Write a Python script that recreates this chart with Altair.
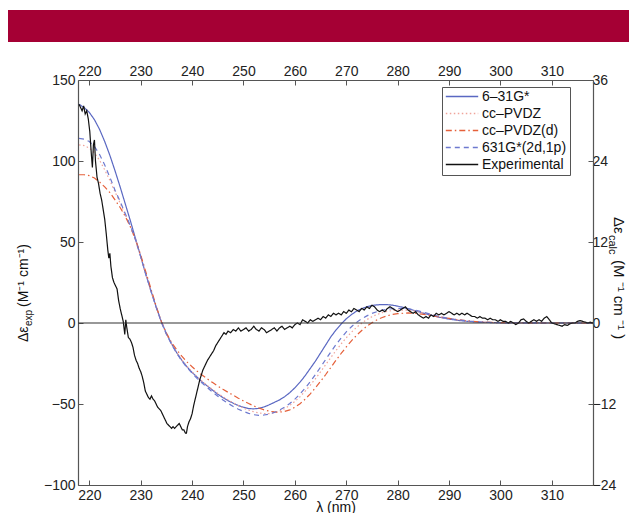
import altair as alt
import pandas as pd

# ---------------- data ----------------
series = ["6–31G*", "cc–PVDZ", "cc–PVDZ(d)", "631G*(2d,1p)", "Experimental"]
colors = ["#5a68c2", "#f0a49a", "#e5603a", "#6d79cf", "#111111"]
dashes = [[1, 0], [1.5, 2.5], [6, 3, 1.5, 3], [5, 4], [1, 0]]

x_ticks = [220, 230, 240, 250, 260, 270, 280, 290, 300, 310]
y_left_ticks = [-100, -50, 0, 50, 100, 150]
y_right_ticks = [-24, -12, 0, 12, 24, 36]

# wavelength grid of the calculated spectra (nm)
calc_nm = list(range(218, 281)) + [282, 284, 286, 288, 290, 292, 294, 296, 298, 300, 305, 310, 318]

# calculated spectra, read against the left axis
g631 = [135, 133, 130, 125.5, 119.5, 112, 103.5, 94, 84, 73.5, 63, 52, 41, 30, 19.8, 10, 1,
        -6.5, -12.8, -18.3, -23, -27, -30.5, -33.5, -36.5, -39, -41.5, -44, -46, -48, -49.5,
        -51, -52, -52.8, -53, -52.7, -51.8, -50.5, -49, -47.5, -45.5, -43, -40, -36.5, -32.5,
        -28, -23.5, -18.5, -13.5, -8.5, -4.3, -0.6, 2.6, 5.2, 7.3, 8.9, 10, 10.8, 11.2, 11.4,
        11.3, 11, 10.4,
        8.9, 7, 5.2, 3.6, 2.4, 1.5, 0.9, 0.5, 0.28, 0.14, 0.03, 0, 0]
ccpvdz = [110, 109.5, 108, 105, 100.5, 94.5, 88, 81, 74, 66.8, 59.5, 51, 40.8, 30, 19.7, 9.8,
          0.8, -6.8, -13, -18.3, -22.8, -26.7, -30.2, -33.3, -36.1, -38.7, -41.1, -43.4, -45.5,
          -47.5, -49.3, -51, -52.5, -53.8, -54.8, -55.5, -55.9, -55.9, -55.4, -54.4, -52.9,
          -50.9, -48.4, -45.5, -42.1, -38.4, -34.4, -30.1, -25.7, -21.3, -17, -12.9, -9.1,
          -5.7, -2.7, -0.1, 2.1, 3.9, 5.3, 6.4, 7.2, 7.7, 8,
          8, 7, 5.5, 4, 2.8, 1.8, 1.1, 0.6, 0.35, 0.18, 0.03, 0, 0]
ccpvdz_d = [91.5, 91.5, 91, 89.5, 87, 84, 80.5, 76, 71.3, 65.8, 59.3, 51.5, 42, 31.5, 21, 10.5,
            1, -6.2, -12, -16.5, -20.5, -24, -27, -29.8, -32.3, -34.6, -36.8, -38.9, -40.9,
            -42.8, -44.6, -46.4, -48.1, -49.7, -51.2, -52.5, -53.6, -54.4, -54.9, -55, -54.6,
            -53.6, -52, -49.8, -47, -43.7, -40, -36, -31.8, -27.4, -23, -18.8, -14.8, -11,
            -7.6, -4.6, -2, 0.2, 2, 3.4, 4.5, 5.3, 5.8,
            6.2, 5.8, 4.9, 3.8, 2.8, 1.9, 1.2, 0.7, 0.4, 0.2, 0.04, 0, 0]
g631_2d = [114, 113.5, 112, 109, 104, 97.5, 90, 82, 75, 67.5, 60, 51.2, 40.8, 29.9, 19.6, 9.7,
           0.6, -7, -13.2, -18.7, -23.5, -27.5, -31, -34.3, -37.3, -40, -42.7, -45.2, -47.5,
           -49.6, -51.5, -53.2, -54.6, -55.8, -56.6, -57, -56.8, -56.2, -55.2, -53.8, -52,
           -49.7, -47, -43.8, -40.2, -36.2, -31.8, -27.2, -22.5, -17.8, -13.3, -9.2, -5.5,
           -2.3, 0.4, 2.6, 4.4, 5.9, 7, 7.9, 8.5, 8.9, 9.1,
           8.8, 7.5, 5.8, 4.1, 2.8, 1.8, 1.1, 0.6, 0.35, 0.18, 0.03, 0, 0]

# experimental spectrum
exp_nm = [218.0, 218.3, 218.6, 218.9, 219.2, 219.5, 219.8, 220.1, 220.4, 220.6, 220.8, 221.0,
          221.2, 221.5, 221.8, 222.1, 222.4, 222.7, 223.0, 223.3, 223.6, 223.8, 224.0, 224.2,
          224.5, 224.8, 225.1, 225.4, 225.7, 226.0, 226.3, 226.6, 226.9, 227.1, 227.3, 227.6,
          227.9, 228.2, 228.5, 228.8, 229.1, 229.4, 229.7, 230.0, 230.3, 230.6, 230.9, 231.2,
          231.5, 231.8, 232.1, 232.4, 232.7, 233.0, 233.3, 233.6, 233.9, 234.2, 234.5, 234.8,
          235.1, 235.4, 235.7, 236.0, 236.3, 236.6, 236.9, 237.2, 237.5, 237.8, 238.1, 238.4,
          238.7, 238.9, 239.1, 239.4, 239.7, 240.0, 240.3, 240.6, 240.9, 241.2, 241.5, 241.8,
          242.1, 242.4, 242.7, 243.0, 243.4, 243.8, 244.2, 244.6, 245.0, 245.4, 245.8, 246.2,
          246.6, 247.0, 247.5, 248.0, 248.5, 249.0, 249.5, 250.0, 250.5, 251.0, 251.5, 252.0,
          252.5, 253.0, 253.5, 254.0, 254.5, 255.0, 255.5, 256.0, 256.5, 257.0, 257.5, 258.0,
          258.5, 259.0, 259.5, 260.0, 260.5, 261.0, 261.5, 262.0, 262.5, 263.0, 263.5, 264.0,
          264.5, 265.0, 265.5, 266.0, 266.5, 267.0, 267.5, 268.0, 268.5, 269.0, 269.5, 270.0,
          270.5, 271.0, 271.5, 272.0, 272.5, 273.0, 273.5, 274.0, 274.5, 275.0, 275.5, 276.0,
          276.5, 277.0, 277.5, 278.0, 278.5, 279.0, 279.5, 280.0, 280.5, 281.0, 281.5, 282.0,
          282.5, 283.0, 283.5, 284.0, 284.5, 285.0, 285.5, 286.0, 286.5, 287.0, 287.5, 288.0,
          288.5, 289.0, 289.5, 290.0, 290.5, 291.0, 291.5, 292.0, 292.5, 293.0, 293.5, 294.0,
          294.5, 295.0, 295.5, 296.0, 296.5, 297.0, 297.5, 298.0, 298.5, 299.0, 299.5, 300.0,
          300.5, 301.0, 301.5, 302.0, 302.5, 303.0, 303.5, 304.0, 304.5, 305.0, 305.5, 306.0,
          306.5, 307.0, 307.5, 308.0, 308.5, 309.0, 309.5, 310.0, 310.5, 311.0, 311.5, 312.0,
          312.5, 313.0, 313.5, 314.0, 314.5, 315.0, 315.5, 316.0, 316.5, 317.0, 317.5, 318.0]
exp_val = [135, 133, 131, 134, 129, 131, 126, 118, 104, 96, 110, 113,
           100, 90, 86, 80, 76, 70, 64, 55, 45, 40, 43, 35,
           28, 25, 23, 21, 14, 9, 5, 1, -7, 2, -3, -9,
           -10, -12, -15, -20, -23, -25, -28, -30, -33, -37, -42, -44,
           -46, -47, -45, -47, -48, -50, -52, -53, -54, -56, -58, -60,
           -62, -63, -64, -65, -64, -65, -64, -63, -62, -64, -66, -66,
           -68, -68, -64, -61, -59, -56, -51, -47, -43, -39, -35, -32,
           -29, -27, -25, -23, -21, -19, -17, -14, -12, -10, -8, -6,
           -7, -5, -6, -4, -5, -3, -5, -4, -3, -5, -4, -2,
           -4, -5, -3, -4, -6, -5, -4, -3, -5, -3, -2, -4,
           -3, -2, -3, -1, 0, -1, 2, 1, 0, 2, 1, 2,
           3, 2, 4, 3, 5, 4, 6, 5, 6, 5, 7, 6,
           8, 7, 9, 8, 7, 9, 8, 10, 9, 11, 10, 8,
           7, 8, 7, 9, 10, 9, 8, 7, 8, 9, 10, 8,
           7, 6, 7, 5, 4, 3, 4, 3, 5, 4, 6, 5,
           6, 5, 6, 7, 6, 5, 6, 5, 6, 5, 6, 5,
           4, 4, 3, 4, 3, 3, 2, 3, 2, 2, 1, 2,
           1, 1, 0, 1, 0, -1, 0, 2, 2.5, 1, 0, 1,
           2, 1, 2, 1, 3, 4, 2, 0, -0.5, -1, -1.5, -2,
           -1, -1.5, -0.5, 0, 0, 1, 1.5, 1, 0.5, 0, 0.5, 0]

# ---------------- tables ----------------
rows = []
for name, vals in zip(series[:4], [g631, ccpvdz, ccpvdz_d, g631_2d]):
    assert len(vals) == len(calc_nm), (name, len(vals))
    rows += [{"nm": n, "val": v, "series": name} for n, v in zip(calc_nm, vals)]
assert len(exp_nm) == len(exp_val), (len(exp_nm), len(exp_val))
rows += [{"nm": n, "val": v, "series": "Experimental"} for n, v in zip(exp_nm, exp_val)]
df = pd.DataFrame(rows)

W, H = 515, 405
FONT = "Liberation Sans"
INWARD = {"expr": "-5"}

xscale = alt.Scale(domain=[217.8, 318], nice=False, zero=False)

common_axis = dict(labelFont=FONT, labelFontSize=14, labelColor="#222",
                   domainColor="#555", domainWidth=1.2, tickColor="#555",
                   tickWidth=1, tickSize=INWARD, grid=False)

legend_kw = dict(title=None, orient="none", legendX=364, legendY=7,
                 symbolType="stroke", symbolSize=1050, symbolStrokeWidth=1.3,
                 labelFont=FONT, labelFontSize=14, labelColor="#111", labelOffset=3,
                 strokeColor="#555", fillColor="white", padding=3, rowPadding=2,
                 clipHeight=13)

lines = alt.Chart(df).mark_line(strokeWidth=1.2, clip=True).encode(
    x=alt.X("nm:Q", scale=xscale,
            axis=alt.Axis(orient="bottom", values=x_ticks, title="λ (nm)",
                          titleFont=FONT, titleFontSize=14, titleFontWeight="normal",
                          titleColor="#111", titleBaseline="alphabetic", titleY=26,
                          labelPadding=8, **common_axis)),
    y=alt.Y("val:Q", scale=alt.Scale(domain=[-100, 150], nice=False),
            axis=alt.Axis(orient="left", values=y_left_ticks, title=None,
                          labelPadding=8, **common_axis)),
    color=alt.Color("series:N", scale=alt.Scale(domain=series, range=colors),
                    legend=alt.Legend(**legend_kw)),
    strokeDash=alt.StrokeDash("series:N", scale=alt.Scale(domain=series, range=dashes),
                              legend=alt.Legend(**legend_kw)),
)

top_axis = alt.Chart(pd.DataFrame({"nm": x_ticks})).mark_point(opacity=0).encode(
    x=alt.X("nm:Q", scale=xscale,
            axis=alt.Axis(orient="top", values=x_ticks, title=None, labelPadding=7,
                          **common_axis)),
)

zero = alt.Chart(pd.DataFrame({"z": [0]})).mark_rule(color="#333", strokeWidth=1.2).encode(
    y=alt.Y("z:Q", scale=alt.Scale(domain=[-24, 36], nice=False),
            axis=alt.Axis(orient="right", values=y_right_ticks, title=None,
                          labelPadding=4, **common_axis)),
)

banner = alt.Chart(pd.DataFrame({"a": [0]})).mark_rect(color="#a50034").encode(
    x=alt.value(-70), x2=alt.value(551), y=alt.value(-70), y2=alt.value(-38))


def label(text, x, y, angle, size=15):
    return alt.Chart(pd.DataFrame({"t": [text]})).mark_text(
        font=FONT, fontSize=size, color="#111", angle=angle, align="left",
        baseline="alphabetic").encode(text="t:N", x=alt.value(x), y=alt.value(y))


left_title = (label("Δε", -50, 262, 270, 14) + label("exp", -46, 246, 270, 10)
              + label("(M⁻¹ cm⁻¹)", -50, 227, 270, 14))
right_title = (label("Δε", 536, 137, 90) + label("calc", 531, 155, 90, 11)
               + label("(M ⁻¹   cm ⁻¹ )", 536, 180, 90))

chart = alt.layer(banner, lines, zero, top_axis, left_title, right_title).resolve_scale(
    y="independent").resolve_axis(x="independent", y="independent").properties(
    width=W, height=H, autosize=alt.AutoSizeParams(type="none"),
    padding={"left": 70, "top": 72, "right": 36, "bottom": 28},
).configure_view(stroke=None).configure(background="white")

chart.save("out.html", embed_options={"renderer": "svg", "actions": False})
